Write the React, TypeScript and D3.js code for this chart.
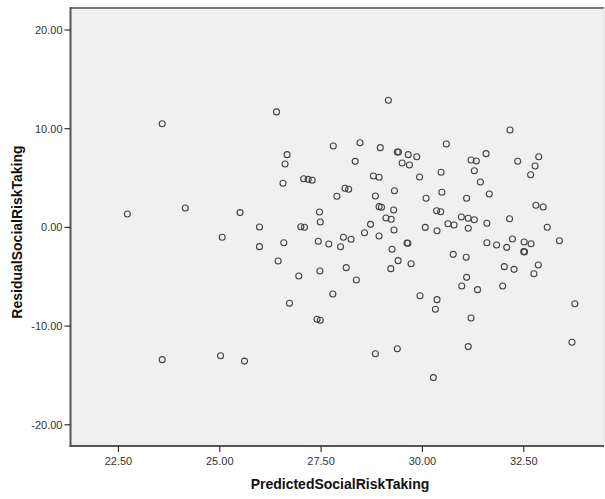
import React from "react";
import * as d3 from "d3";

const predicted: number[] = [
  22.72, 23.58, 24.15, 23.58, 25.06, 25.02, 25.5, 25.61, 25.98, 25.98,
  26.4, 29.16, 27.8, 28.46, 28.96, 29.38, 29.41, 26.66, 26.61, 28.34,
  26.56, 27.07, 27.18, 27.28, 28.79, 28.93, 29.31, 28.09, 28.18, 27.89,
  28.84, 27.46, 28.93, 28.99, 29.29, 29.1, 29.23, 27.48, 28.72, 27.0,
  27.09, 32.16, 30.59, 29.65, 29.86, 29.5, 29.68, 31.57, 31.2, 31.33,
  32.35, 32.87, 32.78, 32.67, 31.28, 30.46, 29.93, 31.43, 30.48, 30.09,
  31.65, 31.09, 32.8, 32.98, 30.35, 30.45, 30.96, 31.13, 31.28, 32.15,
  31.59, 30.63, 30.78, 30.07, 30.36, 31.13, 33.08, 29.3, 26.58, 27.43,
  27.69, 27.98, 28.05, 28.24, 28.57, 28.93, 29.25, 29.4, 29.22, 26.44,
  26.95, 27.47, 28.12, 28.37, 27.79, 26.72, 27.4, 27.48, 28.84, 29.38,
  29.62, 29.64, 30.76, 31.08, 31.59, 31.83, 32.08, 32.22, 32.51, 32.68,
  32.5, 32.52, 33.38, 29.72, 32.02, 32.26, 32.86, 32.75, 31.09, 30.97,
  31.36, 31.98, 29.94, 30.36, 30.32, 31.2, 33.76, 33.69, 31.13, 30.27,
];

const residual: number[] = [
  1.36, 10.5, 1.97, -13.4, -1.0, -13.0, 1.5, -13.55, 0.04, -1.95,
  11.7, 12.88, 8.25, 8.58, 8.08, 7.64, 7.64, 7.37, 6.42, 6.69,
  4.47, 4.93, 4.87, 4.77, 5.21, 5.08, 3.72, 3.96, 3.86, 3.15,
  3.18, 1.56, 2.1, 2.04, 1.76, 0.95, 0.82, 0.55, 0.31, 0.07,
  0.01, 9.87, 8.45, 7.37, 7.16, 6.52, 6.32, 7.47, 6.83, 6.73,
  6.7, 7.16, 6.22, 5.34, 5.74, 5.58, 5.11, 4.6, 3.56, 2.95,
  3.38, 2.95, 2.24, 2.07, 1.69, 1.59, 1.05, 0.92, 0.78, 0.88,
  0.42, 0.37, 0.24, 0.0, -0.34, -0.09, 0.01, -0.26, -1.55, -1.41,
  -1.68, -1.96, -1.0, -1.2, -0.54, -0.87, -2.22, -3.37, -4.18, -3.4,
  -4.92, -4.42, -4.08, -5.33, -6.75, -7.69, -9.31, -9.41, -12.8, -12.3,
  -1.58, -1.6, -2.73, -3.03, -1.55, -1.78, -2.02, -1.18, -1.48, -1.65,
  -2.46, -2.48, -1.35, -3.68, -3.98, -4.25, -3.81, -4.69, -5.06, -5.94,
  -6.31, -5.94, -6.92, -7.32, -8.3, -9.18, -7.73, -11.64, -12.08, -15.22,
];

const xTicks: number[] = [22.5, 25.0, 27.5, 30.0, 32.5];
const yTicks: number[] = [20, 10, 0, -10, -20];
const xTitle = "PredictedSocialRiskTaking";
const yTitle = "ResidualSocialRiskTaking";

const W = 605;
const H = 499;
const left = 70.5;
const right = 604;
const top = 8;
const bottom = 446;

export default function App() {
  const x = d3.scaleLinear().domain([21.317, 34.48]).range([left, right]);
  const y = d3.scaleLinear().domain([-22.15, 22.23]).range([bottom, top]);
  const font = "'Liberation Sans', Arial, sans-serif";
  return (
    <svg
      width={W}
      height={H}
      style={{ position: "absolute", left: 0, top: 0, background: "#fff" }}
    >
      <rect x={left} y={top} width={right - left} height={bottom - top} fill="#f0f0f0" />
      {/* frame */}
      <line x1={left} x2={right} y1={top} y2={top} stroke="#777" strokeWidth={2} />
      <line x1={right} x2={right} y1={top} y2={bottom} stroke="#ddd" strokeWidth={1} />
      <line x1={left} x2={left} y1={top - 1} y2={bottom + 1} stroke="#555" strokeWidth={2} />
      <line x1={left - 1} x2={right} y1={bottom} y2={bottom} stroke="#555" strokeWidth={2} />
      {/* y ticks */}
      {yTicks.map((t) => (
        <g key={"y" + t}>
          <line x1={left - 6} x2={left} y1={y(t)} y2={y(t)} stroke="#333" strokeWidth={1.2} />
          <text
            x={left - 8}
            y={y(t)}
            dy="0.35em"
            textAnchor="end"
            fontFamily={font}
            fontSize={11}
            fill="#333"
          >
            {t.toFixed(2)}
          </text>
        </g>
      ))}
      {/* x ticks */}
      {xTicks.map((t) => (
        <g key={"x" + t}>
          <line x1={x(t)} x2={x(t)} y1={bottom} y2={bottom + 6} stroke="#333" strokeWidth={1.2} />
          <text
            x={x(t)}
            y={bottom + 19}
            textAnchor="middle"
            fontFamily={font}
            fontSize={11}
            fill="#333"
          >
            {t.toFixed(2)}
          </text>
        </g>
      ))}
      {/* points */}
      {predicted.map((p, i) => (
        <circle
          key={i}
          cx={x(p)}
          cy={y(residual[i])}
          r={3}
          fill="none"
          stroke="#444"
          strokeWidth={1.1}
        />
      ))}
      <text
        x={340}
        y={489}
        textAnchor="middle"
        fontFamily={font}
        fontSize={14}
        fontWeight="bold"
        fill="#111"
      >
        {xTitle}
      </text>
      <text
        transform={`translate(22, 232) rotate(-90)`}
        textAnchor="middle"
        fontFamily={font}
        fontSize={14}
        fontWeight="bold"
        fill="#111"
      >
        {yTitle}
      </text>
    </svg>
  );
}
